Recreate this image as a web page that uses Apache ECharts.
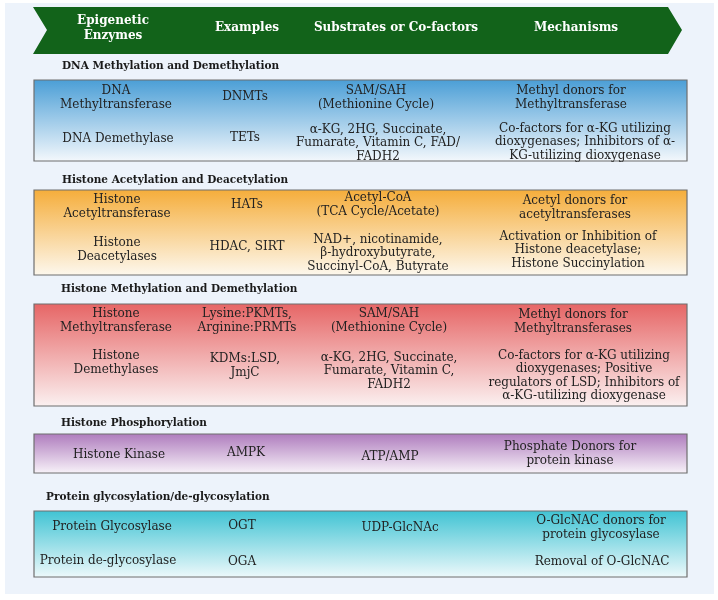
<!DOCTYPE html>
<html><head><meta charset="utf-8">
<script src="https://cdn.jsdelivr.net/npm/echarts@6/dist/echarts.min.js"></script>
<style>html,body{margin:0;padding:0;background:#fff}#c{width:718px;height:600px}</style>
</head><body><div id="c"></div>
<script>
// ---- data ----
var headers = ["Epigenetic\nEnzymes", "Examples", "Substrates or Co-factors", "Mechanisms"];
var sectionTitles = [
  "DNA Methylation and Demethylation",
  "Histone Acetylation and Deacetylation",
  "Histone Methylation and Demethylation",
  "Histone Phosphorylation",
  "Protein glycosylation/de-glycosylation"
];
var rowSection = [0, 0, 1, 1, 2, 2, 3, 4, 4];
var enzymes = [
  "DNA\nMethyltransferase", "DNA Demethylase",
  "Histone\nAcetyltransferase", "Histone\nDeacetylases",
  "Histone\nMethyltransferase", "Histone\nDemethylases",
  "Histone Kinase",
  "Protein Glycosylase", "Protein de-glycosylase"
];
var examples = [
  "DNMTs", "TETs",
  "HATs", "HDAC, SIRT",
  "Lysine:PKMTs,\nArginine:PRMTs", "KDMs:LSD,\nJmjC",
  "AMPK",
  "OGT", "OGA"
];
var substrates = [
  "SAM/SAH\n(Methionine Cycle)", "α-KG, 2HG, Succinate,\nFumarate, Vitamin C, FAD/\nFADH2",
  "Acetyl-CoA\n(TCA Cycle/Acetate)", "NAD+, nicotinamide,\nβ-hydroxybutyrate,\nSuccinyl-CoA, Butyrate",
  "SAM/SAH\n(Methionine Cycle)", "α-KG, 2HG, Succinate,\nFumarate, Vitamin C,\nFADH2",
  "ATP/AMP",
  "UDP-GlcNAc", ""
];
var mechanisms = [
  "Methyl donors for\nMethyltransferase", "Co-factors for α-KG utilizing\ndioxygenases; Inhibitors of α-\nKG-utilizing dioxygenase",
  "Acetyl donors for\nacetyltransferases", "Activation or Inhibition of\nHistone deacetylase;\nHistone Succinylation",
  "Methyl donors for\nMethyltransferases", "Co-factors for α-KG utilizing\ndioxygenases; Positive\nregulators of LSD; Inhibitors of\nα-KG-utilizing dioxygenase",
  "Phosphate Donors for\nprotein kinase",
  "O-GlcNAC donors for\nprotein glycosylase", "Removal of O-GlcNAC"
];

// ---- layout / style ----
var FONT = '"DejaVu Serif", serif';
var headerX = [113, 247, 396, 576];
var headerY = 28;
var titlePos = [[62, 66], [62, 180], [61, 289], [61, 423], [46, 497]];
var boxY = [[80, 161], [190, 275], [304, 406], [434, 473], [511, 577]];
var boxX = [34, 687];
var boxTop = ["#4a9ed6", "#f5ad3a", "#e66565", "#ae7bbd", "#3fc3d3"];
var boxBottom = ["#f4f8fc", "#fdf8ee", "#fbf1f1", "#f8f3f9", "#eef9fb"];
// per-row cell centres [x, y] for 4 columns
var cellPos = [
  [[116, 98], [245, 97], [376, 98], [571, 98]],
  [[118, 139], [245, 138], [378, 143], [585, 142]],
  [[117, 207], [247, 205], [378, 205], [575, 208]],
  [[117, 250], [247, 247], [378, 253], [578, 250]],
  [[116, 321], [247, 321], [389, 321], [573, 322]],
  [[116, 363], [245, 366], [389, 371], [584, 376]],
  [[119, 455], [246, 453], [390, 457], [570, 454]],
  [[112, 527], [242, 526], [400, 528], [601, 528]],
  [[108, 561], [242, 562], [400, 562], [602, 562]]
];

var g = [];
g.push({type: 'rect', shape: {x: 5, y: 3, width: 709, height: 591}, style: {fill: '#edf3fb'}, z: 0});
g.push({type: 'polygon', shape: {points: [[33, 7], [668, 7], [682, 30], [668, 54], [33, 54], [47, 30]]},
  style: {fill: '#12631a'}, z: 1});
headers.forEach(function (h, i) {
  g.push({type: 'text', x: headerX[i], y: headerY, z: 2,
    style: {text: h, fill: '#ffffff', font: 'bold 12px ' + FONT, align: 'center', verticalAlign: 'middle', lineHeight: 15}});
});
sectionTitles.forEach(function (t, s) {
  g.push({type: 'text', x: titlePos[s][0], y: titlePos[s][1], z: 2,
    style: {text: t, fill: '#1a1a1a', font: 'bold 10.5px ' + FONT, align: 'left', verticalAlign: 'middle'}});
  g.push({type: 'rect', z: 1,
    shape: {x: boxX[0], y: boxY[s][0], width: boxX[1] - boxX[0], height: boxY[s][1] - boxY[s][0]},
    style: {fill: {type: 'linear', x: 0, y: 0, x2: 0, y2: 1,
      colorStops: [{offset: 0, color: boxTop[s]}, {offset: 1, color: boxBottom[s]}]},
      stroke: '#6f6f6f', lineWidth: 1.2}});
});
var cols = [enzymes, examples, substrates, mechanisms];
for (var r = 0; r < enzymes.length; r++) {
  for (var c = 0; c < 4; c++) {
    if (!cols[c][r]) continue;
    g.push({type: 'text', x: cellPos[r][c][0], y: cellPos[r][c][1], z: 3,
      style: {text: cols[c][r], fill: '#222222', font: '12px ' + FONT, align: 'center', verticalAlign: 'middle', lineHeight: 13.5}});
  }
}

var chart = echarts.init(document.getElementById('c'), null, {renderer: 'canvas'});
chart.setOption({backgroundColor: '#ffffff', animation: false, graphic: {elements: g}});
</script></body></html>
